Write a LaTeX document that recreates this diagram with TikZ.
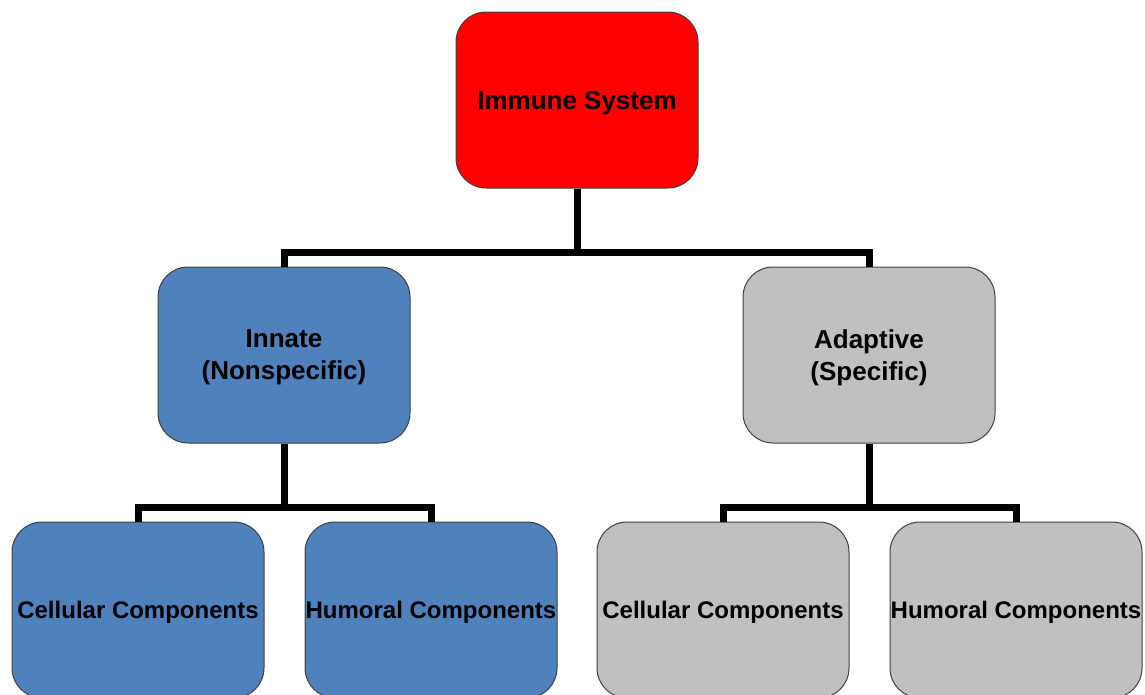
\documentclass[tikz,border=0pt]{standalone}
\usepackage{fontspec}
\setmainfont{Liberation Sans}
\definecolor{immred}{HTML}{FF0000}
\definecolor{innblue}{HTML}{4F81BD}
\definecolor{adpgray}{HTML}{C0C0C0}

\begin{document}
\begin{tikzpicture}
  [x=1pt, y=-1pt,
   box/.style={draw=black!75, line width=1pt, rounded corners=30pt, inner sep=0pt,
     minimum width=252pt, minimum height=176pt, align=center, text depth=-3pt,
     font=\bfseries\fontsize{26}{32}\selectfont},
   twoline/.style={box, text depth=-4.5pt},
   leaf/.style={box, text depth=-1.5pt, font=\bfseries\fontsize{24}{29}\selectfont},
   conn/.style={line width=7pt, line join=miter}]
  \clip (0,0) rectangle (1145,694);

  \node [box, fill=immred, minimum width=242pt] (imm) at (577,100) {Immune System};

  \node [twoline, fill=innblue] (n21) at (284,355) {Innate\\(Nonspecific)};
  \node [twoline, fill=adpgray] (n22) at (869,355) {Adaptive\\(Specific)};

  \node [leaf, fill=innblue] (n31) at (138,610) {Cellular Components};
  \node [leaf, fill=innblue] (n32) at (431,610) {Humoral Components};
  \node [leaf, fill=adpgray] (n33) at (723,610) {Cellular Components};
  \node [leaf, fill=adpgray] (n34) at (1016,610) {Humoral Components};

  \coordinate (j1) at (577,252);
  \coordinate (j21) at (284,507);
  \coordinate (j22) at (869,507);

  % top junction
  \draw [conn] (imm) -- (j1);
  \draw [conn] (j1) -| (n21);
  \draw [conn] (j1) -| (n22);

  % innate junction
  \draw [conn] (n21) -- (j21);
  \draw [conn] (j21) -| (n31);
  \draw [conn] (j21) -| (n32);

  % adaptive junction
  \draw [conn] (n22) -- (j22);
  \draw [conn] (j22) -| (n33);
  \draw [conn] (j22) -| (n34);
\end{tikzpicture}
\end{document}
